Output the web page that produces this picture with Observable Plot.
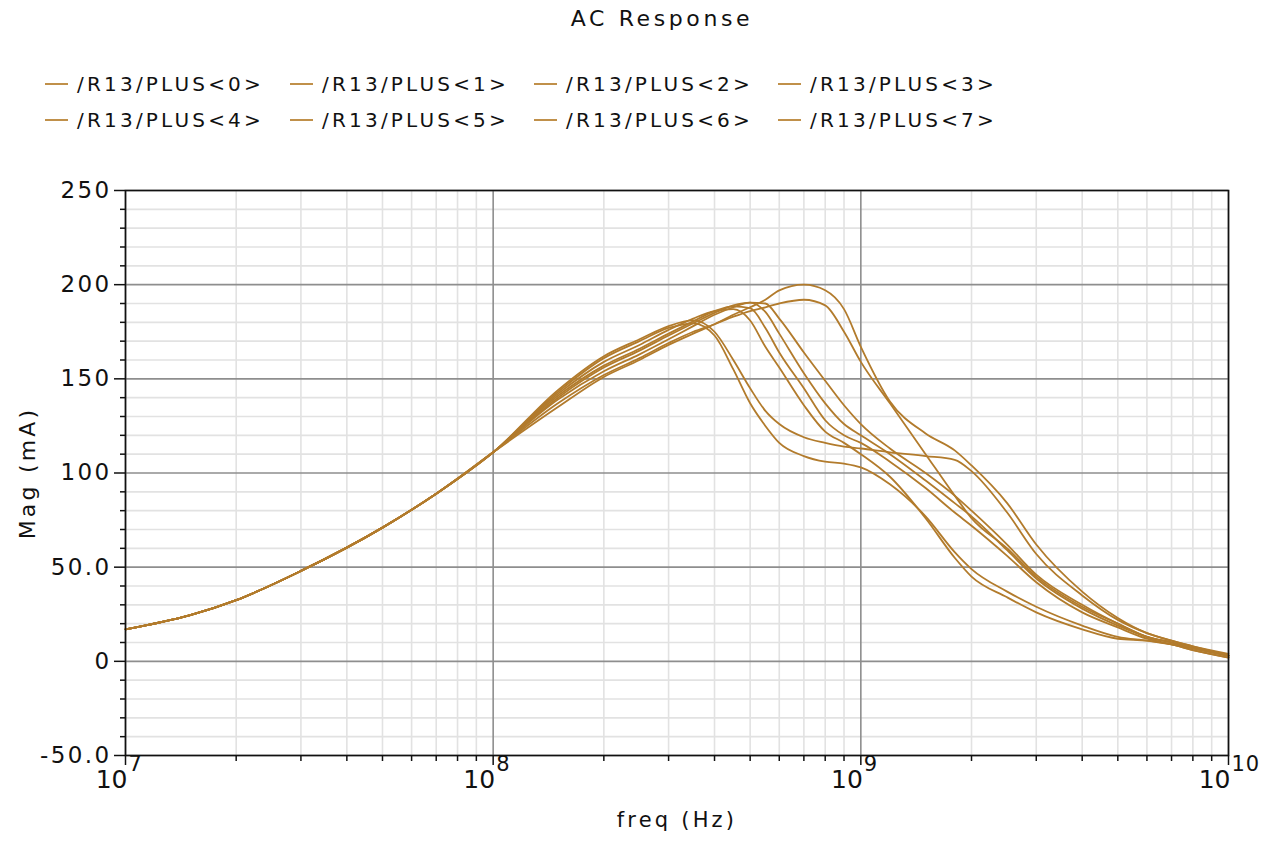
<!DOCTYPE html>
<html>
<head>
<meta charset="utf-8">
<script src="https://cdn.jsdelivr.net/npm/d3@7"></script>
<script src="https://cdn.jsdelivr.net/npm/@observablehq/plot@0.6"></script>
<style>
  body { margin: 0; background: #fff; font-family: "DejaVu Sans", sans-serif; }
  #wrap { position: relative; width: 1272px; height: 841px; overflow: hidden; }
  #title { position: absolute; top: 6px; left: 26px; width: 1272px; text-align: center;
           font-size: 22px; letter-spacing: 3.6px; line-height: 26px; color: #111; }
  .leg { position: absolute; height: 24px; display: flex; align-items: center;
         font-size: 20px; letter-spacing: 3.2px; color: #111; white-space: nowrap; }
  .sw { width: 23px; height: 2px; margin-right: 9px; }
  #chart { position: absolute; left: 0; top: 150px; }
</style>
</head>
<body>
<div id="wrap">
  <div id="title">AC Response</div>
  <div id="legend"></div>
  <div id="chart"></div>
</div>
<script>
// ---------- data ----------
const title = "AC Response";
const xLabel = "freq (Hz)";
const yLabel = "Mag (mA)";
const lineColor = "#b27b2c";

const freqs = [1e7, 1.5e7, 2e7, 3e7, 5e7, 7e7, 1e8, 1.5e8, 2e8, 2.5e8, 3e8, 3.5e8,
  4e8, 4.5e8, 5e8, 5.5e8, 6e8, 7e8, 8e8, 9e8, 1e9, 1.2e9, 1.5e9, 1.8e9, 2e9,
  2.5e9, 3e9, 4e9, 5e9, 6e9, 7e9, 8e9, 1e10];

const seriesNames = ["/R13/PLUS<0>", "/R13/PLUS<1>", "/R13/PLUS<2>", "/R13/PLUS<3>",
  "/R13/PLUS<4>", "/R13/PLUS<5>", "/R13/PLUS<6>", "/R13/PLUS<7>"];

const plus0 = [17, 24.5, 32.5, 48, 71, 89, 111, 144, 162, 171, 178, 181, 175, 160, 145, 133, 126, 119, 116, 114, 113, 111, 109, 107, 101, 79, 57, 35, 22, 15, 11, 8, 4];
const plus1 = [17, 24.5, 32.5, 48, 71, 89, 111, 143, 161, 170, 177, 179.5, 173, 155, 137, 125, 116, 109, 106, 105, 103, 94, 77, 58, 49, 37, 29, 19, 13, 11, 9, 7, 3];
const plus2 = [17, 24.5, 32.5, 48, 71, 89, 111, 142, 159, 168, 176, 182, 186, 187, 181, 167, 156, 136, 122, 116, 110, 98, 76, 55, 45, 34, 26, 17, 12, 11, 9, 6, 2];
const plus3 = [17, 24.5, 32.5, 48, 71, 89, 111, 141, 157, 166, 174, 180.5, 186, 188.5, 187.5, 177, 164, 145, 128, 120, 116, 106, 92, 79, 72, 56, 42, 26, 18, 12, 9, 6, 2];
const plus4 = [17, 24.5, 32.5, 48, 71, 89, 111, 140, 156, 165, 173, 179.5, 185, 189, 190.5, 185.5, 174, 153, 137, 126, 120, 110, 96, 84, 77, 59, 44, 28, 19, 13, 10, 7, 3];
const plus5 = [17, 24.5, 32.5, 48, 71, 89, 111, 139, 154, 163, 171, 178, 184, 188, 190.5, 190, 182, 164, 149, 136, 126, 113, 100, 88, 80, 62, 46, 30, 20, 13, 10, 7, 3];
const plus6 = [17, 24.5, 32.5, 48, 71, 89, 111, 137, 152, 161, 169, 175, 179, 183, 186, 188, 190, 192, 189, 175, 159, 137, 110, 88, 76, 60, 45, 29, 20, 13, 10, 7, 3];
const plus7 = [17, 24.5, 32.5, 48, 71, 89, 111, 135, 151, 160, 168, 174, 179, 184, 188, 192, 197, 200, 197, 187, 167, 138, 121, 112, 104, 84, 62, 37, 23, 15, 11, 8, 3];

const seriesValues = [plus0, plus1, plus2, plus3, plus4, plus5, plus6, plus7];

const yMajorTicks = [-50, 0, 50, 100, 150, 200, 250];
const yMajorLabels = ["-50.0", "0", "50.0", "100", "150", "200", "250"];
const yMinorTicks = [-40, -30, -20, -10, 10, 20, 30, 40, 60, 70, 80, 90, 110, 120, 130, 140,
  160, 170, 180, 190, 210, 220, 230, 240];
const xMajorTicks = [1e7, 1e8, 1e9, 1e10];
const xMajorExponents = ["7", "8", "9", "10"];
const xMinorTicks = [2e7, 3e7, 4e7, 5e7, 6e7, 7e7, 8e7, 9e7, 2e8, 3e8, 4e8, 5e8, 6e8, 7e8,
  8e8, 9e8, 2e9, 3e9, 4e9, 5e9, 6e9, 7e9, 8e9, 9e9];

// ---------- build ----------
document.getElementById("title").textContent = title;

const legendCols = [45, 290, 534, 778];
const legendRows = [72, 108];
const legend = document.getElementById("legend");
seriesNames.forEach((name, i) => {
  const d = document.createElement("div");
  d.className = "leg";
  d.style.left = legendCols[i % 4] + "px";
  d.style.top = legendRows[Math.floor(i / 4)] + "px";
  const sw = document.createElement("span");
  sw.className = "sw";
  sw.style.background = "#c0904a";
  const t = document.createElement("span");
  t.textContent = name;
  d.appendChild(sw); d.appendChild(t);
  legend.appendChild(d);
});

const data = [];
seriesNames.forEach((name, s) => {
  freqs.forEach((f, i) => data.push({freq: f, mag: seriesValues[s][i], name}));
});

const chart = Plot.plot({
  width: 1272,
  height: 691,
  marginTop: 40,
  marginLeft: 125,
  marginRight: 44,
  marginBottom: 86,
  style: {fontFamily: "DejaVu Sans, sans-serif", background: "transparent", color: "#111"},
  x: {type: "log", domain: [1e7, 1e10]},
  y: {domain: [-50, 250]},
  marks: [
    Plot.ruleX(xMinorTicks, {stroke: "#e2e2e2", strokeWidth: 1.6}),
    Plot.ruleY(yMinorTicks, {stroke: "#e2e2e2", strokeWidth: 1.6}),
    Plot.ruleX(xMajorTicks, {stroke: "#8e8e8e", strokeWidth: 1.6}),
    Plot.ruleY(yMajorTicks, {stroke: "#8e8e8e", strokeWidth: 1.6}),
    Plot.line(data, {x: "freq", y: "mag", z: "name", stroke: lineColor, strokeWidth: 1.8, curve: "monotone-x"}),
    Plot.frame({stroke: "#111", strokeWidth: 1.6}),
    Plot.axisY(yMajorTicks, {tickSize: 11, tickPadding: 3, fontSize: 23, label: null,
      tickFormat: (d) => yMajorLabels[yMajorTicks.indexOf(d)], stroke: "#111", strokeWidth: 1.5}),
    Plot.axisY(yMinorTicks, {tickSize: 5, tickFormat: () => "", label: null, stroke: "#111", strokeWidth: 1.5}),
    Plot.axisX(xMinorTicks, {tickSize: 6, tickFormat: () => "", label: null, stroke: "#111", strokeWidth: 1.5}),
    Plot.axisX(xMajorTicks, {tickSize: 10, tickFormat: () => "", label: null, stroke: "#111", strokeWidth: 1.5}),
    Plot.text(xMajorTicks, {x: (d) => d, frameAnchor: "bottom", text: () => "10", textAnchor: "end",
      dx: 2, dy: 32, fontSize: 25, fill: "#111", className: "xbase"}),
    Plot.text(xMajorTicks, {x: (d) => d, frameAnchor: "bottom", text: (d, i) => xMajorExponents[i],
      textAnchor: "start", dx: 3, dy: 15, fontSize: 21, fill: "#111", className: "xexp"}),
    Plot.text([xLabel], {frameAnchor: "bottom", dy: 71, fontSize: 21, fill: "#111", className: "xlab"}),
    Plot.text([yLabel], {frameAnchor: "left", textAnchor: "middle", dx: -98, rotate: -90, fontSize: 22,
      fill: "#111", className: "ylab"})
  ]
});
document.getElementById("chart").appendChild(chart);

// letter spacing to mimic the reference's wide lettering
const svg = d3.select(chart);
svg.selectAll("text").style("letter-spacing", "2.4px");
svg.selectAll(".xlab text, .ylab text").style("letter-spacing", "3.2px");
svg.selectAll(".xbase text").style("letter-spacing", "0px");
svg.selectAll(".xexp text").style("letter-spacing", "1px");
</script>
</body>
</html>
